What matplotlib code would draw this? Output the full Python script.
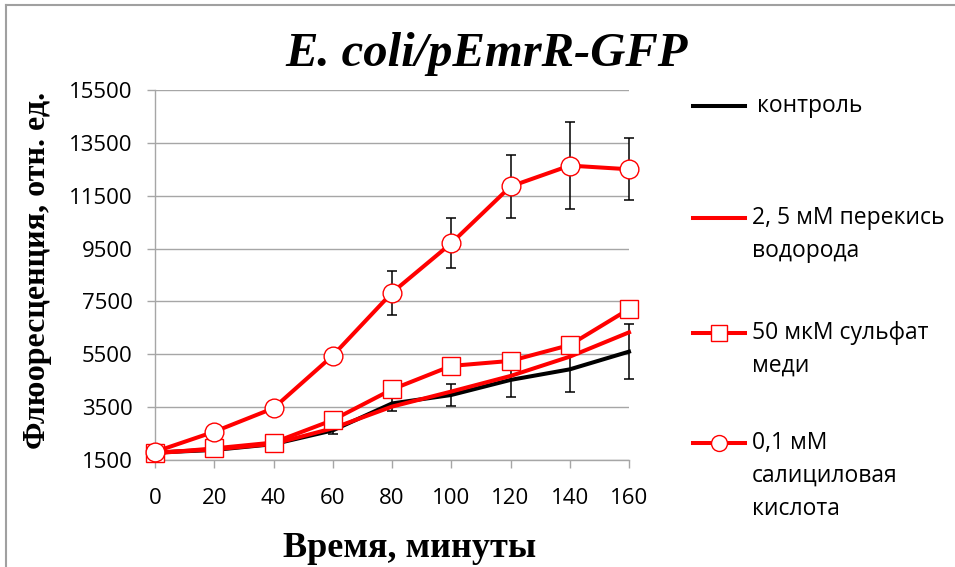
import matplotlib
matplotlib.use("Agg")
import matplotlib.pyplot as plt
from matplotlib.lines import Line2D

# Time points, minutes
time = [0, 20, 40, 60, 80, 100, 120, 140, 160]

# Fluorescence, arbitrary units
control = [1780, 1880, 2100, 2620, 3640, 3960, 4530, 4930, 5600]
control_err = [40, 50, 70, 150, 270, 410, 630, 850, 1040]
peroxide = [1780, 1900, 2110, 2700, 3520, 4090, 4680, 5410, 6330]
copper = [1750, 1940, 2160, 3010, 4170, 5060, 5250, 5850, 7210]
salicylic = [1810, 2570, 3460, 5450, 7830, 9700, 11850, 12640, 12500]
salicylic_err = [60, 80, 100, 130, 830, 950, 1190, 1660, 1170]

y_ticks = [1500, 3500, 5500, 7500, 9500, 11500, 13500, 15500]
x_ticks = time

labels = ["контроль", "2, 5 мМ перекись\nводорода",
          "50 мкМ сульфат\nмеди", "0,1 мМ\nсалициловая\nкислота"]

W, H = 955, 567
fig = plt.figure(figsize=(W / 100, H / 100), dpi=100)


def fx(px):
    return px / W


def fy(py):
    return 1 - py / H


ax = fig.add_axes([fx(155), fy(460), fx(629) - fx(155), fy(90) - fy(460)])

grey = "#a6a6a6"
red = "#ff0000"
lw = 2.9
ms = 13.5

ax.errorbar(time, control, yerr=control_err, fmt="none", ecolor="black",
            elinewidth=1.1, capsize=3.3, capthick=1.1, zorder=2, clip_on=False)
ax.errorbar(time, salicylic, yerr=salicylic_err, fmt="none", ecolor="black",
            elinewidth=1.1, capsize=3.3, capthick=1.1, zorder=2, clip_on=False)

ax.plot(time, control, color="black", lw=lw, zorder=3, clip_on=False)
ax.plot(time, peroxide, color=red, lw=lw, zorder=4, clip_on=False)
ax.plot(time, copper, color=red, lw=lw, marker="s", ms=ms, mfc="white",
        mec=red, mew=1.0, zorder=5, clip_on=False)
ax.plot(time, salicylic, color=red, lw=lw, marker="o", ms=ms, mfc="white",
        mec=red, mew=1.0, zorder=6, clip_on=False)

ax.set_xlim(0, 160)
ax.set_ylim(1500, 15500)
ax.set_xticks(x_ticks)
ax.set_yticks(y_ticks)
ax.yaxis.grid(True, color=grey, lw=1.0)
ax.set_axisbelow(True)
for s in ("top", "right"):
    ax.spines[s].set_visible(False)
for s in ("left", "bottom"):
    ax.spines[s].set_color(grey)
    ax.spines[s].set_linewidth(1.0)

tick_family = ["Open Sans", "DejaVu Sans"]
ax.tick_params(axis="both", colors=grey, length=6, width=1.0)
ax.tick_params(axis="y", pad=10, labelcolor="black")
ax.tick_params(axis="x", pad=14, labelcolor="black")
for t in ax.get_xticklabels() + ax.get_yticklabels():
    t.set_fontfamily(tick_family)
    t.set_fontsize(16)

serif = ["Liberation Serif", "DejaVu Serif"]
fig.text(fx(487), fy(54), "E. coli/pEmrR-GFP", ha="center", va="center",
         fontsize=35, fontweight="bold", fontstyle="italic", family=serif)
fig.text(fx(410), fy(557), "Время, минуты", ha="center", va="baseline",
         fontsize=26, fontweight="bold", family=serif)
fig.text(fx(38), fy(270), "Флюоресценция, отн. ед.", ha="center", va="center",
         rotation=90, fontsize=23, fontweight="bold", family=serif)

# Legend drawn beside the plot area
sans = ["Open Sans", "DejaVu Sans"]
rows_y = [106, 218, 333, 443]
styles = [
    dict(color="black", marker=None),
    dict(color=red, marker=None),
    dict(color=red, marker="s"),
    dict(color=red, marker="o"),
]
line_step = 33
for yy, st, lab in zip(rows_y, styles, labels):
    fig.add_artist(Line2D([fx(693), fx(745)], [fy(yy), fy(yy)], color=st["color"],
                          lw=lw, transform=fig.transFigure))
    if st["marker"]:
        fig.add_artist(Line2D([fx(719)], [fy(yy)], marker=st["marker"], ms=ms * 0.85,
                              mfc="white", mec=red, mew=1.0, lw=0,
                              transform=fig.transFigure))
    x0 = 757 if lab == labels[0] else 752
    for i, part in enumerate(lab.split("\n")):
        fig.text(fx(x0), fy(yy + i * line_step), part, ha="left", va="center",
                 fontsize=16.5, family=sans)

# Outer frame (top and left edges)
fig.add_artist(Line2D([fx(5.5), fx(955)], [fy(4.5), fy(4.5)], color="#a0a0a0",
                      lw=1.5, transform=fig.transFigure))
fig.add_artist(Line2D([fx(5.5), fx(5.5)], [fy(4.5), fy(567)], color="#a0a0a0",
                      lw=1.5, transform=fig.transFigure))

fig.savefig("out.png", dpi=100, facecolor="white")
